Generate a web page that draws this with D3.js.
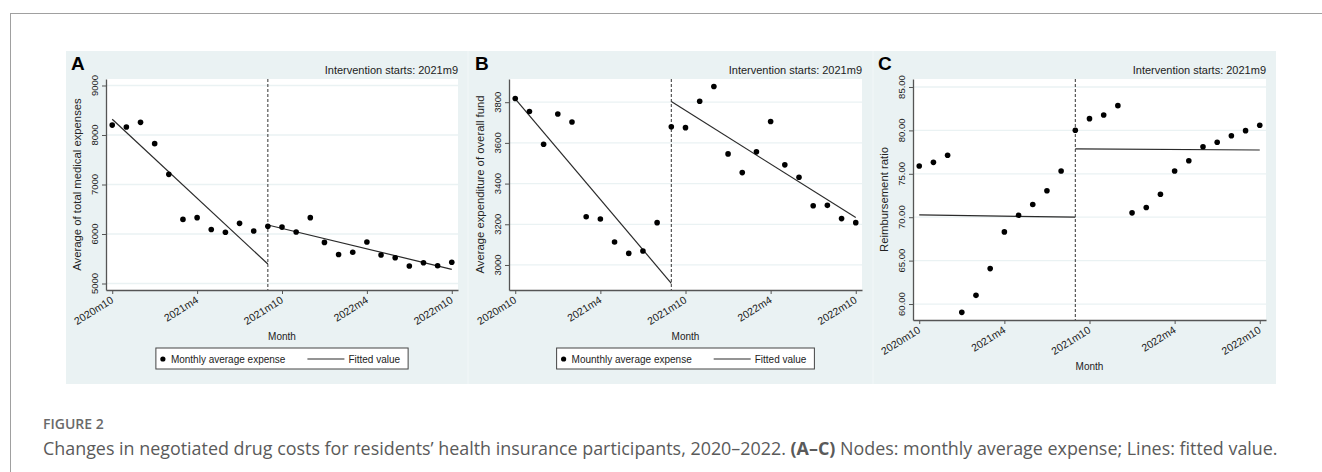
<!DOCTYPE html>
<html>
<head>
<meta charset="utf-8">
<script src="https://cdn.jsdelivr.net/npm/d3@7"></script>
<style>
  body { margin: 0; background: #fff; }
  svg { display: block; }
</style>
</head>
<body>
<script>
// Months on the x axis (2020m10 .. 2022m10)
var months = ["2020m10", "2020m11", "2020m12", "2021m1", "2021m2", "2021m3", "2021m4", "2021m5",
              "2021m6", "2021m7", "2021m8", "2021m9", "2021m10", "2021m11", "2021m12", "2022m1",
              "2022m2", "2022m3", "2022m4", "2022m5", "2022m6", "2022m7", "2022m8", "2022m9", "2022m10"];
var xTickLabels = ["2020m10", "2021m4", "2021m10", "2022m4", "2022m10"];
var interventionMonth = "2021m9";

// Panel A - average of total medical expenses
var expenseA = [8200, 8160, 8255, 7825, 7205, 6295, 6330, 6090, 6035, 6215, 6060, 6155, 6140,
                6040, 6330, 5830, 5585, 5630, 5840, 5575, 5520, 5355, 5420, 5360, 5430];
var fitPreA = [["2020m10", 8317], ["2021m9", 5394]];
var fitPostA = [["2021m9", 6182], ["2022m10", 5287]];
var yTicksA = [5000, 6000, 7000, 8000, 9000];

// Panel B - average expenditure of overall fund
var fundB = [3818, 3754, 3593, 3742, 3703, 3237, 3226, 3113, 3057, 3069, 3208, 3679, 3675,
             3805, 3877, 3546, 3454, 3556, 3705, 3492, 3431, 3291, 3293, 3228, 3208];
var fitPreB = [["2020m10", 3816], ["2021m9", 2910]];
var fitPostB = [["2021m9", 3803], ["2022m10", 3233]];
var yTicksB = [3000, 3200, 3400, 3600, 3800];

// Panel C - reimbursement ratio
var ratioC = [75.90, 76.32, 77.13, 59.04, 61.00, 64.08, 68.31, 70.23, 71.46, 73.05, 75.32, 80.01, 81.35,
              81.77, 82.85, 70.50, 71.12, 72.64, 75.32, 76.50, 78.12, 78.63, 79.39, 79.97, 80.59];
var fitPreC = [["2020m10", 70.28], ["2021m9", 70.00]];
var fitPostC = [["2021m9", 77.86], ["2022m10", 77.74]];
var yTicksC = [60, 65, 70, 75, 80, 85];

var W = 1322, H = 472;
var font = "'Liberation Sans', Arial, sans-serif";
var bg = "#eaf2f3";
var axisCol = "#555";

var svg = d3.select("body").append("svg")
  .attr("width", W)
  .attr("height", H);

// page frame lines
svg.append("line").attr("x1", 10).attr("x2", W).attr("y1", 13.5).attr("y2", 13.5)
  .attr("stroke", "#a0a0a0").attr("stroke-width", 1);
svg.append("line").attr("x1", 10.5).attr("x2", 10.5).attr("y1", 13).attr("y2", H)
  .attr("stroke", "#a0a0a0").attr("stroke-width", 1);

// figure background
svg.append("rect").attr("x", 66).attr("y", 51).attr("width", 1210).attr("height", 333).attr("fill", bg);
// faint seams between panels
[468, 873].forEach(function (sx) {
  svg.append("line").attr("x1", sx).attr("x2", sx).attr("y1", 51).attr("y2", 384)
    .attr("stroke", "#f2f7f8").attr("stroke-width", 1);
});

var panels = [
  { letter: "A", panelLeft: 66, left: 106, right: 458, top: 79, bottom: 290, yDomain: [4869, 9131],
    values: expenseA, fits: [fitPreA, fitPostA], ticks: yTicksA, fmt: d3.format("d"),
    title: "Average of total medical expenses", legend: "Monthly average expense" },
  { letter: "B", panelLeft: 470, left: 509, right: 862, top: 79, bottom: 290, yDomain: [2877, 3914],
    values: fundB, fits: [fitPreB, fitPostB], ticks: yTicksB, fmt: d3.format("d"),
    title: "Average expenditure of overall fund", legend: "Mounthly average expense" },
  { letter: "C", panelLeft: 873, left: 913, right: 1266, top: 79, bottom: 320, yDomain: [58.16, 85.92],
    values: ratioC, fits: [fitPreC, fitPostC], ticks: yTicksC, fmt: d3.format(".2f"),
    title: "Reimbursement ratio", legend: null }
];

panels.forEach(function (p) {
  var g = svg.append("g");
  var x = d3.scalePoint().domain(months).range([p.left, p.right]).padding(0.44);
  var y = d3.scaleLinear().domain(p.yDomain).range([p.bottom, p.top]);

  // plot region
  g.append("rect").attr("x", p.left).attr("y", p.top)
    .attr("width", p.right - p.left).attr("height", p.bottom - p.top).attr("fill", "#fff");

  // grid lines
  g.selectAll(".grid").data(p.ticks).enter().append("line")
    .attr("x1", p.left).attr("x2", p.right)
    .attr("y1", function (d) { return y(d); }).attr("y2", function (d) { return y(d); })
    .attr("stroke", bg).attr("stroke-width", 1.3);

  // intervention line
  g.append("line")
    .attr("x1", x(interventionMonth)).attr("x2", x(interventionMonth))
    .attr("y1", p.top).attr("y2", p.bottom)
    .attr("stroke", "#333").attr("stroke-width", 1).attr("stroke-dasharray", "3,2");

  // axes
  var yAxis = d3.axisLeft(y).tickValues(p.ticks).tickSize(4).tickSizeOuter(0).tickFormat("");
  var ya = g.append("g").attr("transform", "translate(" + p.left + ",0)").call(yAxis);
  var xAxis = d3.axisBottom(x).tickValues(xTickLabels).tickSize(4).tickSizeOuter(0).tickFormat("");
  var xa = g.append("g").attr("transform", "translate(0," + p.bottom + ")").call(xAxis);
  [ya, xa].forEach(function (a) {
    a.select(".domain").attr("stroke", axisCol).attr("stroke-width", 1.3);
    a.selectAll(".tick line").attr("stroke", axisCol).attr("stroke-width", 1);
  });

  // y tick labels, rotated
  g.selectAll(".ylab").data(p.ticks).enter().append("text")
    .attr("transform", function (d) { return "translate(" + (p.left - 8) + "," + y(d) + ") rotate(-90)"; })
    .attr("text-anchor", "middle")
    .style("font-family", font).style("font-size", "9.5px").attr("fill", "#222")
    .text(p.fmt);

  // x tick labels, slanted
  g.selectAll(".xlab").data(xTickLabels).enter().append("text")
    .attr("transform", function (d) { return "translate(" + (x(d) + 2) + "," + (p.bottom + 12) + ") rotate(-32)"; })
    .attr("text-anchor", "end")
    .style("font-family", font).style("font-size", "10.5px").attr("fill", "#222")
    .text(function (d) { return d; });

  // y title
  g.append("text")
    .attr("transform", "translate(" + (p.left - 25) + "," + ((p.top + p.bottom) / 2) + ") rotate(-90)")
    .attr("text-anchor", "middle")
    .style("font-family", font).style("font-size", "11.3px").attr("fill", "#222")
    .text(p.title);

  // x title
  g.append("text")
    .attr("x", (p.left + p.right) / 2).attr("y", p.bottom + 50)
    .attr("text-anchor", "middle")
    .style("font-family", font).style("font-size", "10px").attr("fill", "#222")
    .text("Month");

  // panel letter and note
  g.append("text").attr("x", p.panelLeft + 5).attr("y", 70)
    .style("font-family", font).style("font-size", "19px").style("font-weight", "bold").attr("fill", "#000")
    .text(p.letter);
  g.append("text").attr("x", p.right).attr("y", 74).attr("text-anchor", "end")
    .style("font-family", font).style("font-size", "11px").attr("fill", "#222")
    .text("Intervention starts: " + interventionMonth);

  // fitted lines
  var line = d3.line().x(function (d) { return x(d[0]); }).y(function (d) { return y(d[1]); });
  p.fits.forEach(function (f) {
    g.append("path").attr("d", line(f)).attr("fill", "none")
      .attr("stroke", "#2a2a2a").attr("stroke-width", 1.2);
  });

  // monthly points
  g.selectAll(".pt").data(p.values).enter().append("circle")
    .attr("cx", function (d, i) { return x(months[i]); })
    .attr("cy", function (d) { return y(d); })
    .attr("r", 2.8).attr("fill", "#000");

  // legend
  if (p.legend) {
    var lg = g.append("g");
    var box = lg.append("rect").attr("fill", "#fff").attr("stroke", "#444").attr("stroke-width", 1);
    var t1 = lg.append("text").attr("y", 0)
      .style("font-family", font).style("font-size", "10px").attr("fill", "#222").text(p.legend);
    var t2 = lg.append("text").attr("y", 0)
      .style("font-family", font).style("font-size", "10px").attr("fill", "#222").text("Fitted value");
    var w1 = t1.node().getComputedTextLength(), w2 = t2.node().getComputedTextLength();
    var total = 6 + 3 + 6 + w1 + 22 + 37 + 4 + w2 + 8;
    var bx = (p.left + p.right) / 2 - total / 2, by = p.bottom + 58;
    box.attr("x", bx).attr("y", by).attr("width", total).attr("height", 21);
    lg.append("circle").attr("cx", bx + 7).attr("cy", by + 11).attr("r", 2.6).attr("fill", "#000");
    t1.attr("x", bx + 15).attr("y", by + 15);
    var lx = bx + 15 + w1 + 22;
    lg.append("line").attr("x1", lx).attr("x2", lx + 37).attr("y1", by + 11).attr("y2", by + 11)
      .attr("stroke", "#2a2a2a").attr("stroke-width", 1.2);
    t2.attr("x", lx + 41).attr("y", by + 15);
  }
});

// caption
var capFont = "'Open Sans', 'Noto Sans', sans-serif";
svg.append("text").attr("x", 43).attr("y", 429)
  .style("font-family", capFont).style("font-size", "14px").style("font-weight", "600").attr("fill", "#6a6a6a")
  .text("FIGURE 2");
var cap = svg.append("text").attr("x", 43).attr("y", 455)
  .style("font-family", capFont).style("font-size", "17.9px").attr("fill", "#5a5a5a");
cap.append("tspan").text("Changes in negotiated drug costs for residents\u2019 health insurance participants, 2020\u20132022. ");
cap.append("tspan").style("font-weight", "bold").text("(A\u2013C)");
cap.append("tspan").text(" Nodes: monthly average expense; Lines: fitted value.");
</script>
</body>
</html>
